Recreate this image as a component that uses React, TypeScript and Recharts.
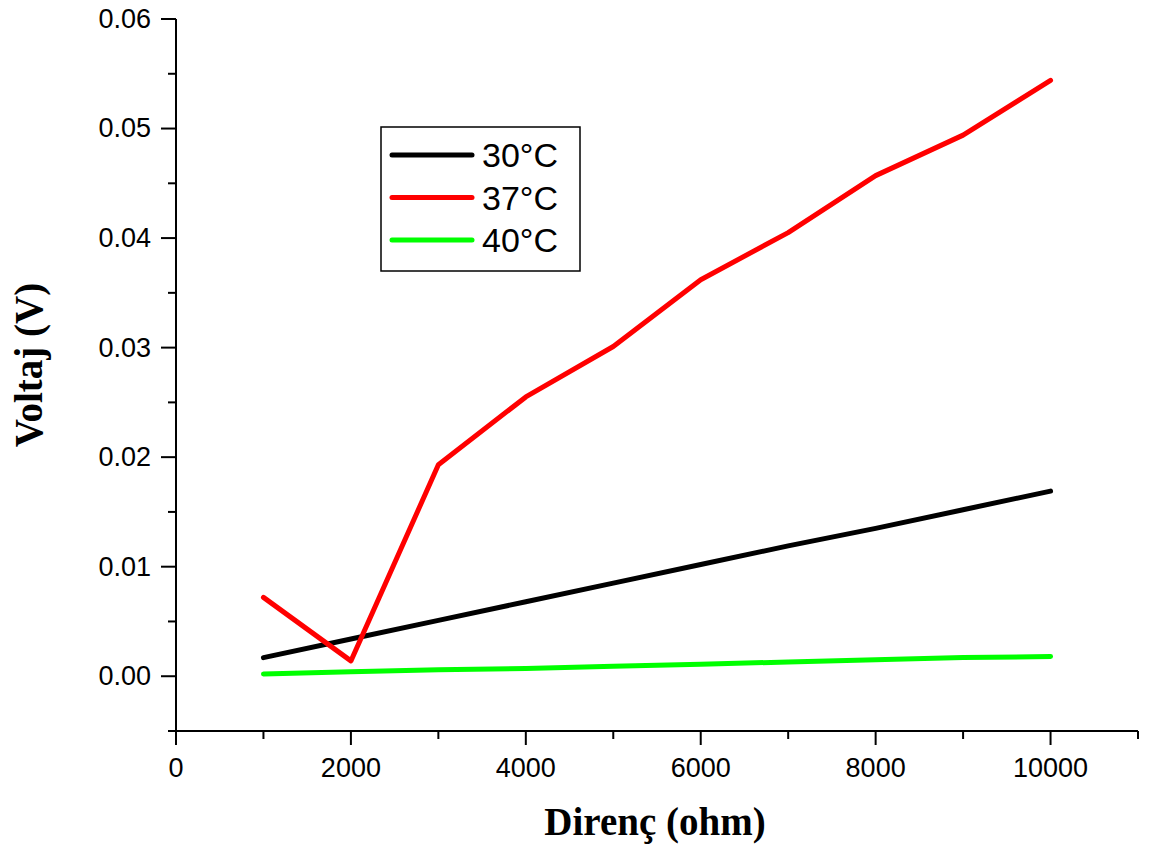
import React from 'react';
import { LineChart, Line, XAxis, YAxis, Legend } from 'recharts';

// Direnç (ohm)
const resistance = [1000, 2000, 3000, 4000, 5000, 6000, 7000, 8000, 9000, 10000];
// Voltaj (V) for each temperature
const volt30 = [0.0017, 0.0034, 0.0051, 0.0068, 0.0085, 0.0102, 0.0119, 0.0135, 0.0152, 0.0169];
const volt37 = [0.0072, 0.0014, 0.0193, 0.0255, 0.0301, 0.0362, 0.0405, 0.0457, 0.0494, 0.0544];
const volt40 = [0.0002, 0.0004, 0.0006, 0.0007, 0.0009, 0.0011, 0.0013, 0.0015, 0.0017, 0.0018];

const seriesNames = ['30°C', '37°C', '40°C'];
const seriesKeys = ['v30', 'v37', 'v40'];
const seriesColors = ['#000000', '#ff0000', '#00ff00'];

const xTicks = [0, 1000, 2000, 3000, 4000, 5000, 6000, 7000, 8000, 9000, 10000, 11000];
const yTicks = [-0.005, 0, 0.005, 0.01, 0.015, 0.02, 0.025, 0.03, 0.035, 0.04, 0.045, 0.05, 0.055, 0.06];

const data = resistance.map((r, i) => ({
  r,
  v30: volt30[i],
  v37: volt37[i],
  v40: volt40[i],
}));

const SANS = '"Liberation Sans", Arial, sans-serif';
const SERIF = '"Liberation Serif", "Times New Roman", serif';

const XTick = (props: any) => {
  const { x, y, payload } = props;
  const major = payload.value % 2000 === 0;
  return (
    <g>
      <line x1={x} x2={x} y1={y} y2={y + (major ? 14 : 8)} stroke="#000" strokeWidth={2} />
      {major && (
        <text x={x} y={y + 46} textAnchor="middle" fontFamily={SANS} fontSize={27} fill="#000">
          {payload.value}
        </text>
      )}
    </g>
  );
};

const YTick = (props: any) => {
  const { x, y, payload } = props;
  const major = Math.round(payload.value * 200) % 2 === 0;
  return (
    <g>
      <line x1={x - (major ? 15 : 8)} x2={x} y1={y} y2={y} stroke="#000" strokeWidth={2} />
      {major && (
        <text x={x - 25} y={y} dy="0.33em" textAnchor="end" fontFamily={SANS} fontSize={27} fill="#000">
          {payload.value.toFixed(2)}
        </text>
      )}
    </g>
  );
};

const LegendBox = () => (
  <svg width={202} height={147}>
    <rect x={1} y={1} width={199} height={144} fill="#fff" stroke="#000" strokeWidth={1.5} />
    {seriesNames.map((name, i) => {
      const cy = 29 + i * 42.5;
      return (
        <g key={name}>
          <line x1={12} x2={92} y1={cy} y2={cy} stroke={seriesColors[i]} strokeWidth={5} strokeLinecap="round" />
          <text x={102} y={cy} dy="0.36em" fontFamily={SANS} fontSize={34} fill="#000">
            {name}
          </text>
        </g>
      );
    })}
  </svg>
);

export default function App() {
  return (
    <div style={{ position: 'absolute', left: 0, top: 0, background: '#fff' }}>
      <LineChart width={1149} height={852} data={data} margin={{ top: 19, right: 11, left: 0, bottom: 0 }}>
        <XAxis
          dataKey="r"
          type="number"
          domain={[0, 11000]}
          ticks={xTicks}
          interval={0}
          height={121}
          tickSize={0}
          tickMargin={0}
          tickLine={false}
          tick={<XTick />}
          axisLine={{ stroke: '#000', strokeWidth: 2 }}
          label={(p: any) => {
            const vb = p.viewBox;
            return (
              <text x={vb.x + vb.width / 2 - 2} y={vb.y + 104} textAnchor="middle" fontFamily={SERIF} fontWeight="bold" fontSize={39} fill="#000">
                Direnç (ohm)
              </text>
            );
          }}
        />
        <YAxis
          type="number"
          domain={[-0.005, 0.06]}
          ticks={yTicks}
          interval={0}
          width={176}
          tickSize={0}
          tickMargin={0}
          tickLine={false}
          tick={<YTick />}
          axisLine={{ stroke: '#000', strokeWidth: 2 }}
          label={(p: any) => {
            const vb = p.viewBox;
            const cy = vb.y + vb.height / 2 - 10;
            return (
              <text x={42} y={cy} transform={`rotate(-90, 42, ${cy})`} textAnchor="middle" fontFamily={SERIF} fontWeight="bold" fontSize={39} fill="#000">
                Voltaj (V)
              </text>
            );
          }}
        />
        <Legend
          layout="vertical"
          align="center"
          verticalAlign="middle"
          content={<LegendBox />}
          wrapperStyle={{ position: 'absolute', left: 380, top: 126, width: 202, height: 147 }}
        />
        {seriesKeys.map((k, i) => (
          <Line
            key={k}
            type="linear"
            dataKey={k}
            name={seriesNames[i]}
            stroke={seriesColors[i]}
            strokeWidth={5}
            strokeLinecap="round"
            strokeLinejoin="round"
            dot={false}
            activeDot={false}
            isAnimationActive={false}
          />
        ))}
      </LineChart>
    </div>
  );
}
